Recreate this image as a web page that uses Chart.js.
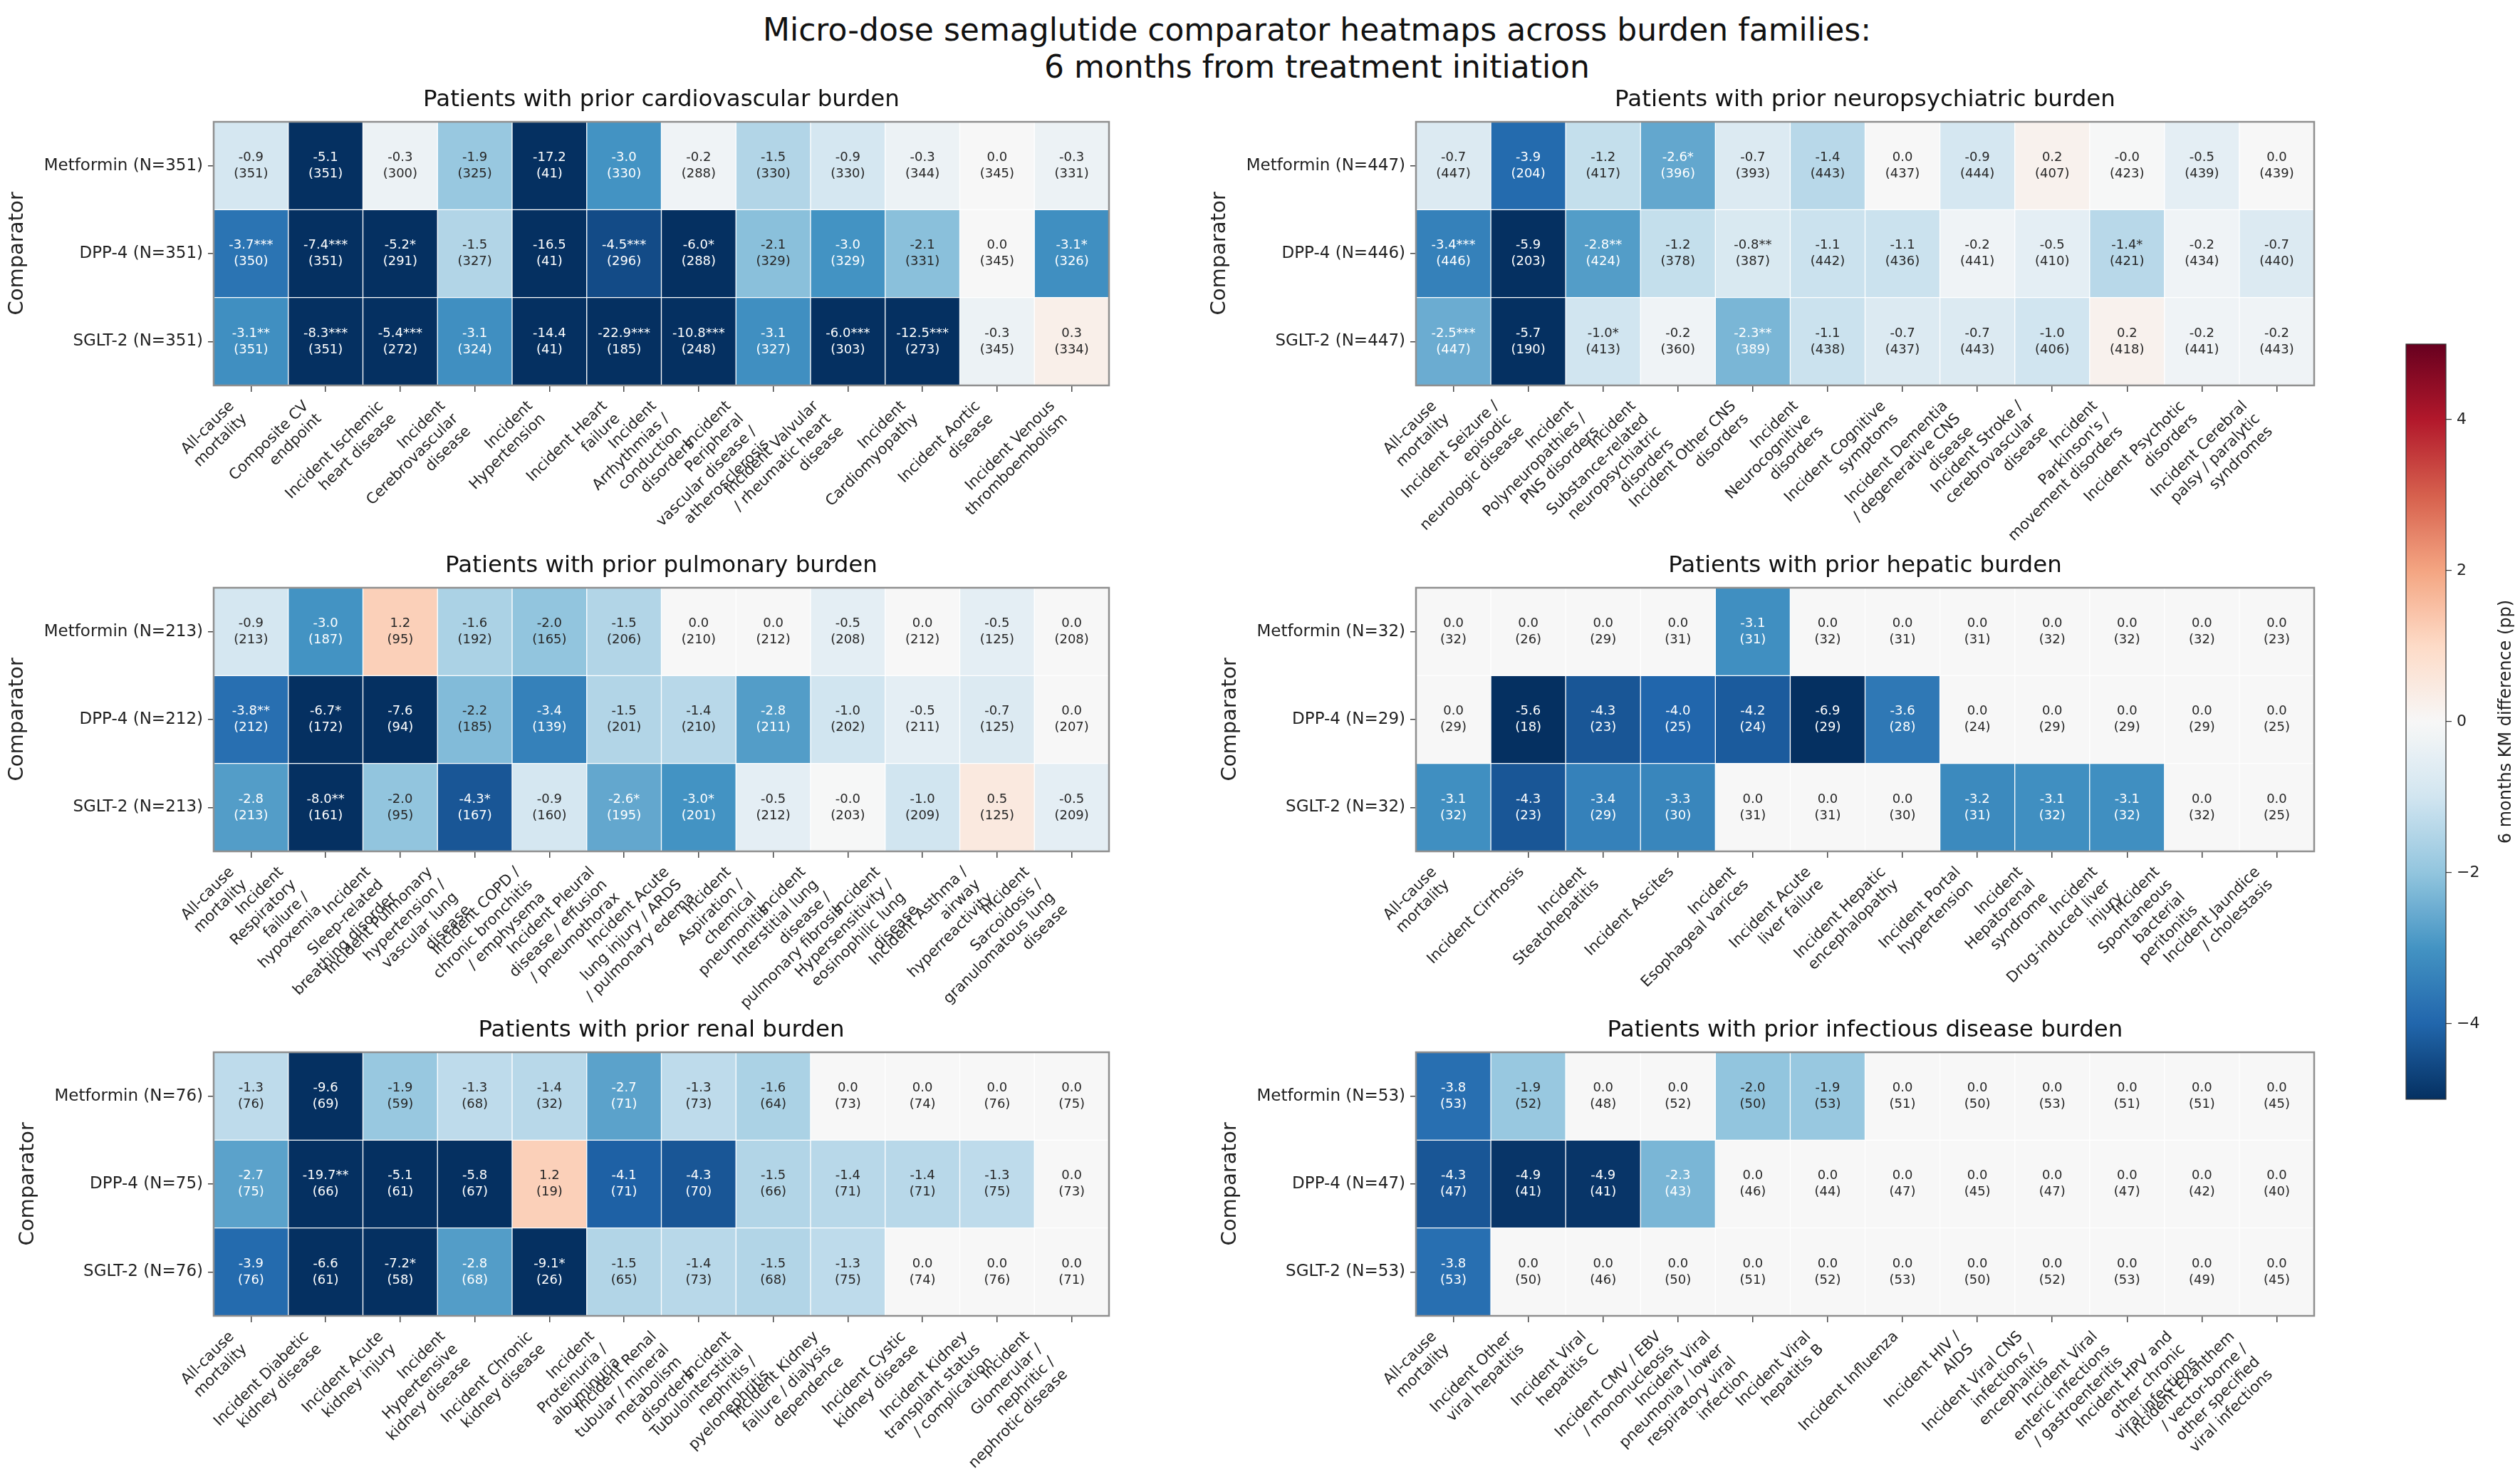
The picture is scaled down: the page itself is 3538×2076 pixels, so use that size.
<!DOCTYPE html>
<html><head><meta charset="utf-8">
<script src="https://cdn.jsdelivr.net/npm/chart.js@4.4.1/dist/chart.umd.min.js"></script>
<style>
html,body{margin:0;padding:0;background:#fff;}
body{width:3538px;height:2076px;position:relative;overflow:hidden;font-family:"DejaVu Sans",sans-serif;}
#title{position:absolute;left:0;width:3698px;top:16px;text-align:center;font-size:44px;line-height:52px;color:#111;}
canvas{position:absolute;}
</style></head><body>
<div id="title">Micro-dose semaglutide comparator heatmaps across burden families:<br>6 months from treatment initiation</div>
<script>
// ---------------- DATA ----------------
const cardioOutcomes = ["All-cause mortality","Composite CV endpoint","Incident Ischemic heart disease","Incident Cerebrovascular disease","Incident Hypertension","Incident Heart failure","Incident Arrhythmias / conduction disorders","Incident Peripheral vascular disease / atherosclerosis","Incident Valvular / rheumatic heart disease","Incident Cardiomyopathy","Incident Aortic disease","Incident Venous thromboembolism"];
const cardioComparators = ["Metformin (N=351)","DPP-4 (N=351)","SGLT-2 (N=351)"];
const cardioDiff = [
  [-0.9,-5.1,-0.3,-1.9,-17.2,-3.0,-0.2,-1.5,-0.9,-0.3,0.0,-0.3],
  [-3.7,-7.4,-5.2,-1.5,-16.5,-4.5,-6.0,-2.1,-3.0,-2.1,0.0,-3.1],
  [-3.1,-8.3,-5.4,-3.1,-14.4,-22.9,-10.8,-3.1,-6.0,-12.5,-0.3,0.3]];
const cardioStars = [
  ["","","","","","","","","","","",""],
  ["***","***","*","","","***","*","","","","","*"],
  ["**","***","***","","","***","***","","***","***","",""]];
const cardioN = [
  [351,351,300,325,41,330,288,330,330,344,345,331],
  [350,351,291,327,41,296,288,329,329,331,345,326],
  [351,351,272,324,41,185,248,327,303,273,345,334]];

const neuroOutcomes = ["All-cause mortality","Incident Seizure / episodic neurologic disease","Incident Polyneuropathies / PNS disorders","Incident Substance-related neuropsychiatric disorders","Incident Other CNS disorders","Incident Neurocognitive disorders","Incident Cognitive symptoms","Incident Dementia / degenerative CNS disease","Incident Stroke / cerebrovascular disease","Incident Parkinson's / movement disorders","Incident Psychotic disorders","Incident Cerebral palsy / paralytic syndromes"];
const neuroComparators = ["Metformin (N=447)","DPP-4 (N=446)","SGLT-2 (N=447)"];
const neuroDiff = [
  [-0.7,-3.9,-1.2,-2.6,-0.7,-1.4,0.0,-0.9,0.2,-0.02,-0.5,0.0],
  [-3.4,-5.9,-2.8,-1.2,-0.8,-1.1,-1.1,-0.2,-0.5,-1.4,-0.2,-0.7],
  [-2.5,-5.7,-1.0,-0.2,-2.3,-1.1,-0.7,-0.7,-1.0,0.2,-0.2,-0.2]];
const neuroStars = [
  ["","","","*","","","","","","","",""],
  ["***","","**","","**","","","","","*","",""],
  ["***","","*","","**","","","","","","",""]];
const neuroN = [
  [447,204,417,396,393,443,437,444,407,423,439,439],
  [446,203,424,378,387,442,436,441,410,421,434,440],
  [447,190,413,360,389,438,437,443,406,418,441,443]];

const pulmOutcomes = ["All-cause mortality","Incident Respiratory failure / hypoxemia","Incident Sleep-related breathing disorder","Incident Pulmonary hypertension / vascular lung disease","Incident COPD / chronic bronchitis / emphysema","Incident Pleural disease / effusion / pneumothorax","Incident Acute lung injury / ARDS / pulmonary edema","Incident Aspiration / chemical pneumonitis","Incident Interstitial lung disease / pulmonary fibrosis","Incident Hypersensitivity / eosinophilic lung disease","Incident Asthma / airway hyperreactivity","Incident Sarcoidosis / granulomatous lung disease"];
const pulmComparators = ["Metformin (N=213)","DPP-4 (N=212)","SGLT-2 (N=213)"];
const pulmDiff = [
  [-0.9,-3.0,1.2,-1.6,-2.0,-1.5,0.0,0.0,-0.5,0.0,-0.5,0.0],
  [-3.8,-6.7,-7.6,-2.2,-3.4,-1.5,-1.4,-2.8,-1.0,-0.5,-0.7,0.0],
  [-2.8,-8.0,-2.0,-4.3,-0.9,-2.6,-3.0,-0.5,-0.02,-1.0,0.5,-0.5]];
const pulmStars = [
  ["","","","","","","","","","","",""],
  ["**","*","","","","","","","","","",""],
  ["","**","","*","","*","*","","","","",""]];
const pulmN = [
  [213,187,95,192,165,206,210,212,208,212,125,208],
  [212,172,94,185,139,201,210,211,202,211,125,207],
  [213,161,95,167,160,195,201,212,203,209,125,209]];

const hepOutcomes = ["All-cause mortality","Incident Cirrhosis","Incident Steatohepatitis","Incident Ascites","Incident Esophageal varices","Incident Acute liver failure","Incident Hepatic encephalopathy","Incident Portal hypertension","Incident Hepatorenal syndrome","Incident Drug-induced liver injury","Incident Spontaneous bacterial peritonitis","Incident Jaundice / cholestasis"];
const hepComparators = ["Metformin (N=32)","DPP-4 (N=29)","SGLT-2 (N=32)"];
const hepDiff = [
  [0.0,0.0,0.0,0.0,-3.1,0.0,0.0,0.0,0.0,0.0,0.0,0.0],
  [0.0,-5.6,-4.3,-4.0,-4.2,-6.9,-3.6,0.0,0.0,0.0,0.0,0.0],
  [-3.1,-4.3,-3.4,-3.3,0.0,0.0,0.0,-3.2,-3.1,-3.1,0.0,0.0]];
const hepStars = [
  ["","","","","","","","","","","",""],
  ["","","","","","","","","","","",""],
  ["","","","","","","","","","","",""]];
const hepN = [
  [32,26,29,31,31,32,31,31,32,32,32,23],
  [29,18,23,25,24,29,28,24,29,29,29,25],
  [32,23,29,30,31,31,30,31,32,32,32,25]];

const renalOutcomes = ["All-cause mortality","Incident Diabetic kidney disease","Incident Acute kidney injury","Incident Hypertensive kidney disease","Incident Chronic kidney disease","Incident Proteinuria / albuminuria","Incident Renal tubular / mineral metabolism disorders","Incident Tubulointerstitial nephritis / pyelonephritis","Incident Kidney failure / dialysis dependence","Incident Cystic kidney disease","Incident Kidney transplant status / complication","Incident Glomerular / nephritic / nephrotic disease"];
const renalComparators = ["Metformin (N=76)","DPP-4 (N=75)","SGLT-2 (N=76)"];
const renalDiff = [
  [-1.3,-9.6,-1.9,-1.3,-1.4,-2.7,-1.3,-1.6,0.0,0.0,0.0,0.0],
  [-2.7,-19.7,-5.1,-5.8,1.2,-4.1,-4.3,-1.5,-1.4,-1.4,-1.3,0.0],
  [-3.9,-6.6,-7.2,-2.8,-9.1,-1.5,-1.4,-1.5,-1.3,0.0,0.0,0.0]];
const renalStars = [
  ["","","","","","","","","","","",""],
  ["","**","","","","","","","","","",""],
  ["","","*","","*","","","","","","",""]];
const renalN = [
  [76,69,59,68,32,71,73,64,73,74,76,75],
  [75,66,61,67,19,71,70,66,71,71,75,73],
  [76,61,58,68,26,65,73,68,75,74,76,71]];

const infOutcomes = ["All-cause mortality","Incident Other viral hepatitis","Incident Viral hepatitis C","Incident CMV / EBV / mononucleosis","Incident Viral pneumonia / lower respiratory viral infection","Incident Viral hepatitis B","Incident Influenza","Incident HIV / AIDS","Incident Viral CNS infections / encephalitis","Incident Viral enteric infections / gastroenteritis","Incident HPV and other chronic viral infections","Incident Exanthem / vector-borne / other specified viral infections"];
const infComparators = ["Metformin (N=53)","DPP-4 (N=47)","SGLT-2 (N=53)"];
const infDiff = [
  [-3.8,-1.9,0.0,0.0,-2.0,-1.9,0.0,0.0,0.0,0.0,0.0,0.0],
  [-4.3,-4.9,-4.9,-2.3,0.0,0.0,0.0,0.0,0.0,0.0,0.0,0.0],
  [-3.8,0.0,0.0,0.0,0.0,0.0,0.0,0.0,0.0,0.0,0.0,0.0]];
const infStars = [
  ["","","","","","","","","","","",""],
  ["","","","","","","","","","","",""],
  ["","","","","","","","","","","",""]];
const infN = [
  [53,52,48,52,50,53,51,50,53,51,51,45],
  [47,41,41,43,46,44,47,45,47,47,42,40],
  [53,50,46,50,51,52,53,50,52,53,49,45]];

const colorbarRange = [-5, 5];
const colorbarTicks = [-4, -2, 0, 2, 4];
const colorbarLabel = "6 months KM difference (pp)";
const yAxisTitle = "Comparator";

// ---------------- STYLE / LAYOUT ----------------
Chart.defaults.font.family = '"DejaVu Sans", sans-serif';
Chart.defaults.color = '#222';
const RDBU_R = ['#053061','#2166ac','#4393c3','#92c5de','#d1e5f0','#f7f7f7','#fddbc7','#f4a582','#d6604d','#b2182b','#67001f'];
function hex2rgb(h){return [parseInt(h.slice(1,3),16),parseInt(h.slice(3,5),16),parseInt(h.slice(5,7),16)];}
function cmap(v){
  let t=(v-colorbarRange[0])/(colorbarRange[1]-colorbarRange[0]);
  t=Math.max(0,Math.min(1,t));
  const s=t*10, i=Math.min(9,Math.floor(s)), f=s-i;
  const a=hex2rgb(RDBU_R[i]), b=hex2rgb(RDBU_R[i+1]);
  const c=a.map((x,k)=>Math.round(x+(b[k]-x)*f));
  return `rgb(${c[0]},${c[1]},${c[2]})`;
}
function wrap(s,w){
  const words=s.split(' '); const out=[]; let cur='';
  for(const wd of words){
    if(!cur) cur=wd;
    else if((cur+' '+wd).length<=w) cur+=' '+wd;
    else {out.push(cur); cur=wd;}
  }
  if(cur) out.push(cur);
  return out;
}

const panels = [
  {title:"Patients with prior cardiovascular burden", outcomes:cardioOutcomes, comps:cardioComparators, diff:cardioDiff, stars:cardioStars, n:cardioN, col:0, row:0},
  {title:"Patients with prior neuropsychiatric burden", outcomes:neuroOutcomes, comps:neuroComparators, diff:neuroDiff, stars:neuroStars, n:neuroN, col:1, row:0},
  {title:"Patients with prior pulmonary burden", outcomes:pulmOutcomes, comps:pulmComparators, diff:pulmDiff, stars:pulmStars, n:pulmN, col:0, row:1},
  {title:"Patients with prior hepatic burden", outcomes:hepOutcomes, comps:hepComparators, diff:hepDiff, stars:hepStars, n:hepN, col:1, row:1},
  {title:"Patients with prior renal burden", outcomes:renalOutcomes, comps:renalComparators, diff:renalDiff, stars:renalStars, n:renalN, col:0, row:2},
  {title:"Patients with prior infectious disease burden", outcomes:infOutcomes, comps:infComparators, diff:infDiff, stars:infStars, n:infN, col:1, row:2}
];
const colBox = [{left:300,right:1557,canvasLeft:0,canvasW:1620},{left:1988,right:3249,canvasLeft:1660,canvasW:1640}];
const rowBox = [{top:171,bottom:541},{top:825,bottom:1195},{top:1477,bottom:1847}];

const framePlugin = {
  id:'frame',
  afterDraw(chart,args,opts){
    const a=chart.chartArea, ctx=chart.ctx;
    ctx.save(); ctx.strokeStyle=opts.color||'#8c8c8c'; ctx.lineWidth=opts.width||2;
    ctx.strokeRect(a.left,a.top,a.right-a.left,a.bottom-a.top); ctx.restore();
  }
};
const cellTextPlugin = {
  id:'cellText',
  afterDatasetsDraw(chart){
    const ctx=chart.ctx; ctx.save();
    ctx.font='18px "DejaVu Sans"'; ctx.textAlign='center'; ctx.textBaseline='middle';
    chart.data.datasets.forEach((ds,di)=>{
      if(!ds.diffs) return;
      const meta=chart.getDatasetMeta(di);
      meta.data.forEach((el,j)=>{
        const v=ds.diffs[j];
        const cy=(el.y+el.base)/2;
        ctx.fillStyle = Math.abs(v)>=2.25 ? '#ffffff' : '#262626';
        ctx.fillText(v.toFixed(1)+ds.stars[j], el.x, cy-11.5);
        ctx.fillText('('+ds.ns[j]+')', el.x, cy+11.5);
      });
    });
    ctx.restore();
  }
};
const xLabelPlugin = {
  id:'xlabels',
  afterDraw(chart){
    const sc=chart.scales.x; if(!sc) return;
    const ctx=chart.ctx, fs=21, lh=fs*1.2, th=Math.PI/4, c=Math.cos(th), s=Math.sin(th);
    ctx.save(); ctx.font=fs+'px "DejaVu Sans"'; ctx.fillStyle='#222';
    const y0=sc.top+9+8;
    chart.data.labels.forEach((lab,i)=>{
      const lines=wrap(lab,18);
      const W=Math.max(...lines.map(l=>ctx.measureText(l).width)), H=lines.length*lh;
      const pts=[[0,0],[W,0],[0,H],[W,H]].map(([x,y])=>[x*c+y*s,-x*s+y*c]);
      const maxX=Math.max(...pts.map(p=>p[0])), minY=Math.min(...pts.map(p=>p[1]));
      const x=sc.getPixelForTick(i);
      ctx.save(); ctx.translate(x-maxX,y0-minY); ctx.rotate(-th);
      ctx.textAlign='right'; ctx.textBaseline='middle';
      lines.forEach((l,k)=>ctx.fillText(l,W,k*lh+lh/2));
      ctx.restore();
    });
    ctx.restore();
  }
};
const cbLabelPlugin = {
  id:'cbLabel',
  afterDraw(chart){
    const sc=chart.scales.y, a=chart.chartArea, ctx=chart.ctx;
    ctx.save(); ctx.font='24px "DejaVu Sans"'; ctx.fillStyle='#222';
    ctx.textAlign='center'; ctx.textBaseline='middle';
    ctx.translate(sc.right+30,(a.top+a.bottom)/2); ctx.rotate(-Math.PI/2);
    ctx.fillText(colorbarLabel,0,0); ctx.restore();
  }
};

function makeCanvas(left,top,w,h){
  const cv=document.createElement('canvas');
  cv.width=w; cv.height=h; cv.style.left=left+'px'; cv.style.top=top+'px';
  cv.style.width=w+'px'; cv.style.height=h+'px';
  document.body.appendChild(cv); return cv;
}
function place(chart,cl,ct,target){
  for(let k=0;k<3;k++){
    const ca=chart.chartArea, p=Object.assign({},chart.options.layout.padding);
    p.left += target.left-(cl+ca.left);
    p.right += (cl+ca.right)-target.right;
    p.top += target.top-(ct+ca.top);
    p.bottom += (ct+ca.bottom)-target.bottom;
    chart.options.layout.padding=p;
    chart.update('none');
  }
}

panels.forEach(P=>{
  const cb=colBox[P.col], rb=rowBox[P.row];
  const ct=rb.top-100, ch=100+(rb.bottom-rb.top)+270;
  const cv=makeCanvas(cb.canvasLeft,ct,cb.canvasW,ch);
  const datasets=P.comps.map((r,i)=>({
    label:r,
    data:P.outcomes.map(()=>[i,i+1]),
    backgroundColor:P.diff[i].map(cmap),
    borderColor:'#ffffff', borderWidth:1, borderSkipped:false,
    grouped:false, barPercentage:1, categoryPercentage:1,
    diffs:P.diff[i], stars:P.stars[i], ns:P.n[i]
  }));
  const chart=new Chart(cv,{
    type:'bar',
    data:{labels:P.outcomes,datasets},
    options:{
      responsive:false, animation:false, devicePixelRatio:1,
      layout:{padding:{left:10,right:40,top:20,bottom:250}},
      plugins:{
        legend:{display:false}, tooltip:{enabled:false},
        title:{display:true,text:P.title,fullSize:false,font:{size:32.5,weight:'normal'},color:'#111',padding:{top:0,bottom:11}},
        frame:{color:'#8f8f8f',width:2.5}
      },
      scales:{
        x:{type:'category',offset:true,ticks:{display:false},
           grid:{offset:false,drawOnChartArea:false,drawTicks:true,tickLength:9,color:'#444',lineWidth:1.5},
           border:{display:false}},
        y:{type:'linear',min:0,max:3,reverse:true,position:'left',
           afterBuildTicks:sc=>{sc.ticks=P.comps.map((_,i)=>({value:i+0.5}));},
           ticks:{callback:(v,i)=>P.comps[i],font:{size:23},color:'#222',padding:7,autoSkip:false},
           grid:{drawOnChartArea:false,drawTicks:true,tickLength:8,color:'#444',lineWidth:1.5},
           border:{display:false},
           title:{display:true,text:yAxisTitle,font:{size:29},color:'#222',padding:{top:0,bottom:13}}}
      }
    },
    plugins:[framePlugin,cellTextPlugin,xLabelPlugin]
  });
  place(chart,cb.canvasLeft,ct,{left:cb.left,right:cb.right,top:rb.top,bottom:rb.bottom});
});

// ---------------- COLORBAR ----------------
(function(){
  const cl=3300, ct=420, cw=238, chh=1200;
  const cv=makeCanvas(cl,ct,cw,chh);
  const chart=new Chart(cv,{
    type:'bar',
    data:{labels:[''],datasets:[{
      data:[colorbarRange],
      backgroundColor:(c)=>{
        const ca=c.chart.chartArea; if(!ca) return '#ccc';
        const g=c.chart.ctx.createLinearGradient(0,ca.bottom,0,ca.top);
        for(let k=0;k<=40;k++){const v=colorbarRange[0]+(colorbarRange[1]-colorbarRange[0])*k/40; g.addColorStop(k/40,cmap(v));}
        return g;
      },
      borderWidth:0, barPercentage:1, categoryPercentage:1
    }]},
    options:{
      responsive:false, animation:false, devicePixelRatio:1,
      layout:{padding:{left:78,right:50,top:60,bottom:60}},
      plugins:{legend:{display:false},tooltip:{enabled:false},frame:{color:'#333',width:1.2}},
      scales:{
        x:{display:false,offset:true},
        y:{position:'right',min:colorbarRange[0],max:colorbarRange[1],
           afterBuildTicks:sc=>{sc.ticks=colorbarTicks.map(v=>({value:v}));},
           ticks:{callback:v=>v<0?'\u2212'+Math.abs(v):String(v),font:{size:22},color:'#222',padding:7},
           grid:{drawOnChartArea:false,drawTicks:true,tickLength:8,color:'#333',lineWidth:1.2},
           border:{display:false}}
      }
    },
    plugins:[framePlugin,cbLabelPlugin]
  });
  place(chart,cl,ct,{left:3378,right:3434,top:483,bottom:1543});
})();
</script>
</body></html>
